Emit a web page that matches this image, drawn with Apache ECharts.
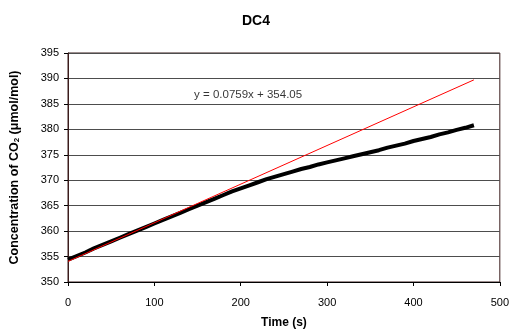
<!DOCTYPE html>
<html>
<head>
<meta charset="utf-8">
<script src="https://cdn.jsdelivr.net/npm/echarts@6/dist/echarts.min.js"></script>
<style>
  html, body { margin: 0; padding: 0; background: #fff; }
  #chart { width: 512px; height: 335px; }
</style>
</head>
<body>
<div id="chart"></div>
<script>
var times = [0, 10, 20, 30, 40, 50, 60, 70, 80, 90, 100, 110, 120, 130, 140, 150, 160, 170, 180, 190,
  200, 210, 220, 230, 240, 250, 260, 270, 280, 290, 300, 310, 320, 330, 340, 350, 360, 370, 380, 390,
  400, 410, 420, 430, 440, 450, 460, 470];
var co2 = [354.4, 355.1, 355.8, 356.6, 357.3, 358.0, 358.7, 359.4, 360.1, 360.8, 361.5, 362.2, 362.9, 363.6, 364.3, 365.0, 365.7, 366.4, 367.1, 367.8,
  368.4, 369.0, 369.6, 370.2, 370.7, 371.2, 371.7, 372.2, 372.6, 373.1, 373.5, 373.9, 374.3, 374.7, 375.1, 375.5, 375.9, 376.4, 376.8, 377.2,
  377.7, 378.1, 378.5, 379.0, 379.4, 379.9, 380.3, 380.8];

// linear trendline from the fit
var trendCoef = [0.0759, 354.05];
var trendRange = [0, 470];
var trendLabel = 'y = 0.0759x + 354.05';
var trendLabelAt = [146, 386.8];

var xTicks = [0, 500, 100];
var yTicks = [350, 395, 5];

var chart = echarts.init(document.getElementById('chart'));

var measured = times.map(function(t, i) { return [t, co2[i]]; });
var trend = trendRange.map(function(t) { return [t, trendCoef[0] * t + trendCoef[1]]; });

var font = 'Arial, "Liberation Sans", sans-serif';

chart.setOption({
  animation: false,
  title: {
    text: 'DC4',
    left: 'center',
    top: 9,
    textStyle: { fontFamily: font, fontSize: 14, fontWeight: 'bold', color: '#000' }
  },
  grid: {
    left: 67, right: 8, top: 53, bottom: 53,
    show: true,
    borderColor: '#3b1c1c',
    borderWidth: 1
  },
  xAxis: {
    type: 'value',
    min: xTicks[0], max: xTicks[1], interval: xTicks[2],
    name: 'Time (s)',
    nameLocation: 'middle',
    nameGap: 35,
    nameTextStyle: { fontFamily: font, fontSize: 12, fontWeight: 'bold', color: '#000' },
    axisLine: { show: true, lineStyle: { color: '#000', width: 1 } },
    axisTick: { show: true, length: 4, lineStyle: { color: '#000' } },
    axisLabel: { fontFamily: font, fontSize: 11, color: '#000', margin: 15 },
    splitLine: { show: false }
  },
  yAxis: {
    type: 'value',
    min: yTicks[0], max: yTicks[1], interval: yTicks[2],
    name: '{b|Concentration of CO}{s|2}{b| (μmol/mol)}',
    nameLocation: 'middle',
    nameGap: 47,
    nameRotate: 90,
    nameTextStyle: {
      rich: {
        b: { fontFamily: font, fontSize: 12.5, fontWeight: 'bold', color: '#000' },
        s: { fontFamily: font, fontSize: 8, fontWeight: 'bold', color: '#000', verticalAlign: 'bottom', padding: [4, 0, 0, 0] }
      }
    },
    axisLine: { show: true, lineStyle: { color: '#3b1c1c', width: 1 } },
    axisTick: { show: true, length: 4, lineStyle: { color: '#000' } },
    axisLabel: { fontFamily: font, fontSize: 11, color: '#000', margin: 9 },
    splitLine: { show: true, lineStyle: { color: '#4d4d4d', width: 1 } }
  },
  series: [
    {
      name: 'DC4',
      type: 'line',
      data: measured,
      showSymbol: false,
      lineStyle: { color: '#000', width: 4 },
      z: 2
    },
    {
      name: 'Linear (DC4)',
      type: 'line',
      data: trend,
      showSymbol: false,
      lineStyle: { color: '#ff0000', width: 1 },
      z: 3
    },
    {
      name: 'label',
      type: 'scatter',
      data: [trendLabelAt],
      symbolSize: 0,
      silent: true,
      label: {
        show: true,
        position: 'right',
        distance: 0,
        formatter: trendLabel,
        fontFamily: font, fontSize: 11.5, color: '#000'
      }
    }
  ]
});
</script>
</body>
</html>
